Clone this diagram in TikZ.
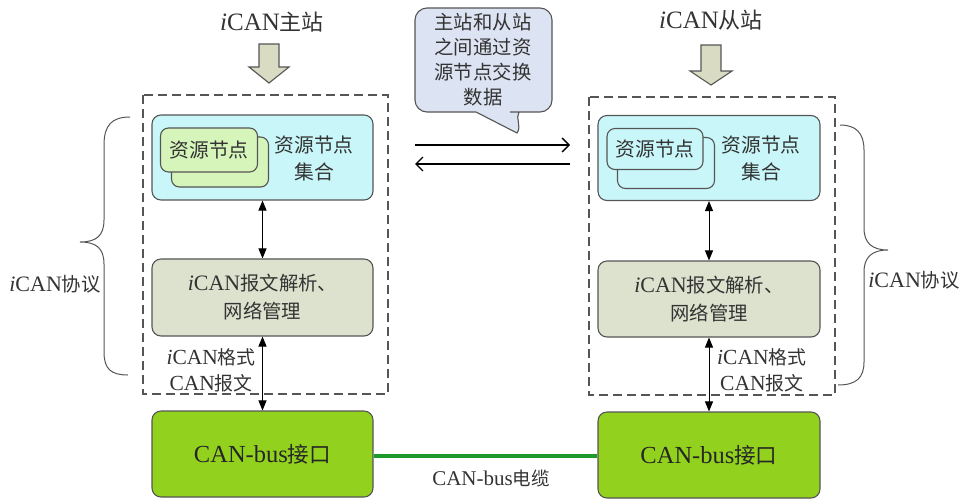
\documentclass[tikz,border=0pt]{standalone}
\usepackage{fontspec}
\setmainfont{Liberation Serif}
\newfontfamily\cjk[Scale=0.88]{Noto Sans CJK SC}
\usetikzlibrary{arrows.meta}
\newcommand\zh[1]{{\cjk #1}}
\newcommand\ii{{\itshape i}}
\definecolor{txt}{HTML}{333333}
\definecolor{bord}{HTML}{555555}
\definecolor{cyanfill}{HTML}{C9F6F8}
\definecolor{grayfill}{HTML}{DDE2CE}
\definecolor{greenfill}{HTML}{92D21E}
\definecolor{nodefill}{HTML}{D6F5BB}
\definecolor{callfill}{HTML}{DCE3F2}
\definecolor{arrfill}{HTML}{D9DCC3}
\definecolor{cable}{HTML}{1E9A2A}
\tikzset{
  x=1pt,y=-1pt,
  box/.style={draw=bord,line width=1.1pt,rounded corners=9pt,inner sep=0pt},
  dashbox/.style={draw=bord,line width=1.1pt,dash pattern=on 9pt off 5pt},
  dbl/.style={line width=1pt,{Triangle[length=10pt,width=8pt]}-{Triangle[length=10pt,width=8pt]}},
  harr/.style={line width=1.3pt,-{Straight Barb[length=7pt,width=14pt]}},
  blockarr/.style={draw=bord,fill=arrfill,line width=1.1pt},
  lbl/.style={text=txt,align=center,inner sep=0pt},
  brace/.style={draw=bord,line width=1pt},
}
\begin{document}
\begin{tikzpicture}
\useasboundingbox (0,0) rectangle (960,499);
% titles
\node[lbl,font=\fontsize{25}{28}\selectfont] (titleL) at (272,22) {\ii CAN\zh{主站}};
\node[lbl,font=\fontsize{25}{28}\selectfont] (titleR) at (711,20) {\ii CAN\zh{从站}};
% block arrows
\draw[blockarr] (259,44) -- (279,44) -- (279,67) -- (289,67) -- (269,83) -- (249,67) -- (259,67) -- cycle;
\draw[blockarr] (701,45) -- (721,45) -- (721,71) -- (732,71) -- (711,85) -- (690,71) -- (701,71) -- cycle;
% dashed boxes
\draw[dashbox] (143,95) rectangle (388,394);
\draw[dashbox] (589,97) rectangle (835,395);
% left station
\node[box,fill=cyanfill,minimum width=221pt,minimum height=85pt] (cyanL) at (262.5,157.5) {};
\node[box,fill=nodefill,minimum width=97pt,minimum height=50pt,rounded corners=8pt] (backL) at (220,162) {};
\node[box,fill=nodefill,minimum width=97pt,minimum height=44pt,rounded corners=8pt,font=\fontsize{22.5}{24}\selectfont,text=txt] (frontL) at (209,150) {\zh{资源节点}};
\node[lbl,font=\fontsize{22.5}{27}\selectfont] (setL) at (314,158) {\zh{资源节点}\\\zh{集合}};
\node[box,fill=grayfill,minimum width=221pt,minimum height=77pt,font=\fontsize{22}{28}\selectfont,text=txt,align=center] (grayL) at (262.5,297.5) {\ii CAN\zh{报文解析、}\\\zh{网络管理}};
\node[box,fill=greenfill,minimum width=221pt,minimum height=86pt,font=\fontsize{24.5}{28}\selectfont,text=black!85] (greenL) at (262.5,454) {CAN-bus\zh{接口}};
\draw[dbl] (cyanL.south) -- (grayL.north);
\draw[dbl] (grayL.south) -- (greenL.north);
\node[lbl,font=\fontsize{21.5}{26}\selectfont,anchor=east] (fmtL) at (256,370) {\ii CAN\zh{格式}\\CAN\zh{报文}};
% right station
\node[box,fill=cyanfill,minimum width=222pt,minimum height=85pt] (cyanR) at (709,158) {};
\node[box,fill=cyanfill,minimum width=97pt,minimum height=51pt,rounded corners=8pt] (backR) at (666,163) {};
\node[box,fill=cyanfill,minimum width=96pt,minimum height=41pt,rounded corners=8pt,font=\fontsize{22.5}{24}\selectfont,text=txt] (frontR) at (655,149) {\zh{资源节点}};
\node[lbl,font=\fontsize{22.5}{27}\selectfont] (setR) at (761,158) {\zh{资源节点}\\\zh{集合}};
\node[box,fill=grayfill,minimum width=222pt,minimum height=76pt,font=\fontsize{22}{28}\selectfont,text=txt,align=center] (grayR) at (709,299) {\ii CAN\zh{报文解析、}\\\zh{网络管理}};
\node[box,fill=greenfill,minimum width=222pt,minimum height=86pt,font=\fontsize{24.5}{28}\selectfont,text=black!85] (greenR) at (709,455) {CAN-bus\zh{接口}};
\draw[dbl] (cyanR.south) -- (grayR.north);
\draw[dbl] (grayR.south) -- (greenR.north);
\node[lbl,font=\fontsize{21.5}{26}\selectfont,anchor=west] (fmtR) at (717,370) {\ii CAN\zh{格式}\\CAN\zh{报文}};
% braces
\draw[brace] (130,117) .. controls (112,117) and (104,125) .. (104,145) -- (104,220) .. controls (104,236) and (96,242) .. (80,242) .. controls (96,242) and (104,248) .. (104,264) -- (104,352) .. controls (104,369) and (111,375) .. (128,375);
\node[lbl,font=\fontsize{22}{24}\selectfont] (protoL) at (55,284) {\ii CAN\zh{协议}};
\draw[brace] (840,125) .. controls (856,125) and (864,133) .. (864,150) -- (864,228) .. controls (864,243) and (872,250) .. (888,250) .. controls (872,250) and (864,257) .. (864,272) -- (864,362) .. controls (864,378) and (856,385) .. (838,385);
\node[lbl,font=\fontsize{22}{24}\selectfont] (protoR) at (914,280) {\ii CAN\zh{协议}};
% callout
\draw[draw=bord,fill=callfill,line width=1.1pt] [rounded corners=12pt] (476,112) -- (415,112) -- (415,8) -- (552,8) -- (552,112) -- (522,112) [sharp corners] -- (519,112) .. controls (515,118) and (522,126) .. (517,133) -- (476,112) -- cycle;
\node[lbl,font=\fontsize{22}{25}\selectfont] (calltext) at (483,60) {\zh{主站和从站}\\\zh{之间通过资}\\\zh{源节点交换}\\\zh{数据}};
% exchange arrows
\coordinate (ha) at (415,145);
\coordinate (hb) at (570,145);
\coordinate (hc) at (570,164);
\coordinate (hd) at (415,164);
\draw[harr] (ha) -- (hb);
\draw[harr] (hc) -- (hd);
% cable
\coordinate (cab) at (0,456);
\draw[cable,line width=4.5pt] (greenL.east |- cab) -- (greenR.west |- cab);
\node[lbl,font=\fontsize{21}{24}\selectfont] (cablbl) at (491,478) {CAN-bus\zh{电缆}};
\end{tikzpicture}
\end{document}
